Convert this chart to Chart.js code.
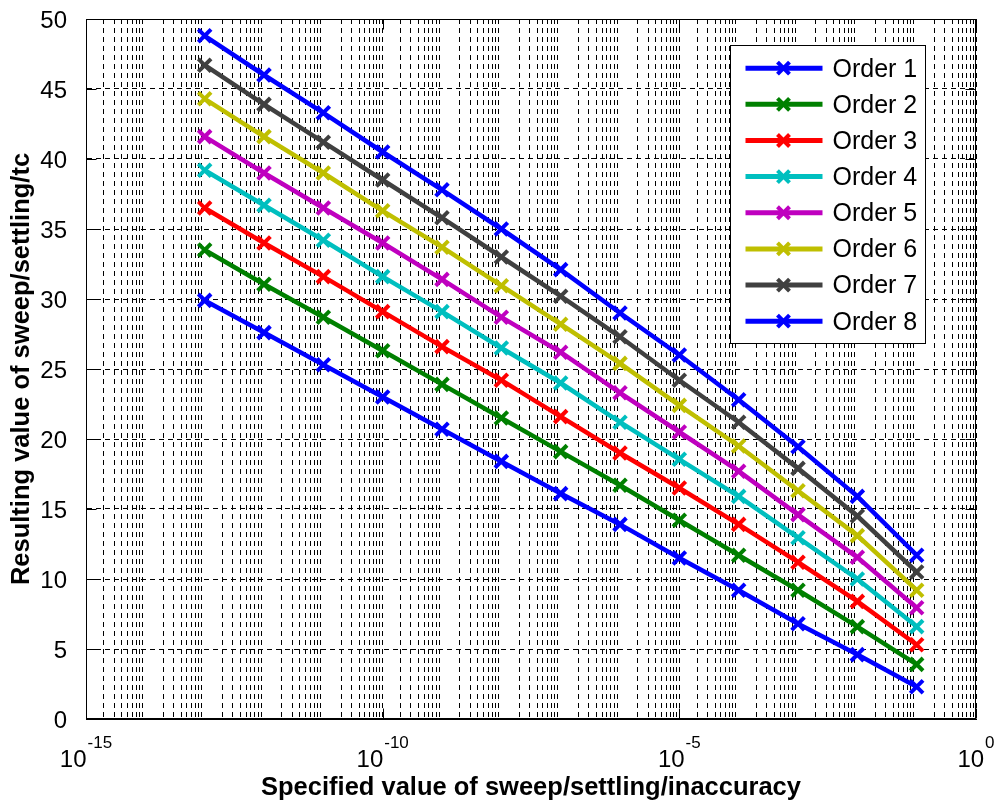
<!DOCTYPE html>
<html>
<head>
<meta charset="utf-8">
<script src="https://cdn.jsdelivr.net/npm/chart.js@4.4.0/dist/chart.umd.min.js"></script>
<style>
html,body{margin:0;padding:0;background:#fff;}
canvas{display:block;}
</style>
</head>
<body>
<canvas id="c" width="995" height="803"></canvas>
<script>
// ---------- data ----------
const xValues = [1e-13, 1e-12, 1e-11, 1e-10, 1e-9, 1e-8, 1e-7, 1e-6, 1e-5, 1e-4, 1e-3, 1e-2, 1e-1];
const order1 = [29.9, 27.6, 25.3, 23.0, 20.7, 18.4, 16.1, 13.9, 11.5, 9.2, 6.8, 4.6, 2.3];
const order2 = [33.5, 31.05, 28.7, 26.3, 23.9, 21.5, 19.1, 16.7, 14.2, 11.7, 9.2, 6.6, 3.9];
const order3 = [36.5, 34.0, 31.6, 29.1, 26.6, 24.2, 21.6, 19.0, 16.5, 13.9, 11.2, 8.4, 5.3];
const order4 = [39.2, 36.7, 34.2, 31.6, 29.1, 26.5, 24.0, 21.2, 18.55, 15.9, 12.95, 10.0, 6.6];
const order5 = [41.6, 39.0, 36.5, 34.0, 31.4, 28.7, 26.2, 23.3, 20.5, 17.7, 14.6, 11.55, 7.95];
const order6 = [44.3, 41.6, 39.0, 36.3, 33.7, 30.95, 28.2, 25.4, 22.4, 19.5, 16.3, 13.1, 9.2];
const order7 = [46.7, 43.9, 41.2, 38.5, 35.8, 33.0, 30.2, 27.3, 24.2, 21.2, 17.9, 14.5, 10.5];
const order8 = [48.8, 46.0, 43.3, 40.5, 37.8, 35.0, 32.1, 29.0, 26.0, 22.8, 19.45, 15.9, 11.7];
const seriesLabels = ['Order 1', 'Order 2', 'Order 3', 'Order 4', 'Order 5', 'Order 6', 'Order 7', 'Order 8'];
const seriesColors = ['#0000FF', '#008000', '#FF0000', '#00BFBF', '#BF00BF', '#BFBF00', '#404040', '#0000FF'];
const xTickExponents = [-15, -10, -5, 0];
const yTickStep = 5;
const yMin = 0, yMax = 50;
const xTitle = 'Specified value of sweep/settling/inaccuracy';
const yTitle = 'Resulting value of sweep/settling/tc';

// ---------- helpers ----------
const FONT = '"Liberation Sans", Arial, Helvetica, sans-serif';
const allSeries = [order1, order2, order3, order4, order5, order6, order7, order8];

// grid positions: 2..9 x 10^k in every decade plus the labelled decades
const xGridValues = [];
for (let e = xTickExponents[0]; e < xTickExponents[xTickExponents.length - 1]; e++) {
  for (let m = 2; m <= 9; m++) xGridValues.push(m * Math.pow(10, e));
}
xTickExponents.forEach(e => xGridValues.push(Math.pow(10, e)));
xGridValues.sort((a, b) => a - b);

const datasets = allSeries.map((s, i) => ({
  label: seriesLabels[i],
  data: xValues.map((x, j) => ({x: x, y: s[j]})),
  borderColor: seriesColors[i],
  backgroundColor: seriesColors[i],
  borderWidth: 4.5,
  pointStyle: 'crossRot',
  pointRadius: 9,
  pointBorderWidth: 4,
  pointBorderColor: seriesColors[i],
  tension: 0,
  fill: false
}));

function seg(ctx, x1, y1, x2, y2) {
  ctx.beginPath(); ctx.moveTo(x1, y1); ctx.lineTo(x2, y2); ctx.stroke();
}

const decor = {
  id: 'decor',
  afterDatasetsDraw(chart) {
    const {ctx, chartArea: a, scales: {x, y}} = chart;
    ctx.save();
    ctx.setLineDash([]);
    ctx.strokeStyle = '#000';
    ctx.lineWidth = 1;
    const L = Math.round(a.left) + 0.5, R = Math.round(a.right) - 0.5;
    const T = Math.round(a.top) + 0.5, B = Math.round(a.bottom) - 0.5;
    ctx.strokeRect(L, T, R - L, B - T);
    // inward major ticks
    xTickExponents.forEach(e => {
      const px = Math.round(x.getPixelForValue(Math.pow(10, e))) + 0.5;
      seg(ctx, px, B, px, B - 10);
      seg(ctx, px, T, px, T + 10);
    });
    for (let v = yMin; v <= yMax; v += yTickStep) {
      const py = Math.round(y.getPixelForValue(v)) + 0.5;
      seg(ctx, L, py, L + 10, py);
      seg(ctx, R, py, R - 10, py);
    }
    ctx.restore();
  },
  afterDraw(chart) {
    const {ctx, chartArea: a, scales: {x}} = chart;
    ctx.save();
    // x tick labels with superscript exponents
    ctx.fillStyle = '#000';
    ctx.textBaseline = 'alphabetic';
    ctx.textAlign = 'left';
    xTickExponents.forEach(e => {
      const px = x.getPixelForValue(Math.pow(10, e));
      const base = '10', exp = String(e);
      ctx.font = '24px ' + FONT;
      const wb = ctx.measureText(base).width;
      ctx.font = '17px ' + FONT;
      const we = ctx.measureText(exp).width;
      const sx = px - (wb + 1 + we) / 2;
      ctx.font = '24px ' + FONT;
      ctx.fillText(base, sx, a.bottom + 48);
      ctx.font = '17px ' + FONT;
      ctx.fillText(exp, sx + wb + 1, a.bottom + 29);
    });
    // legend
    const bw = 195, bh = 298;
    const bx = Math.round(a.right - 51) + 0.5 - bw, by = Math.round(a.top + 26) + 0.5;
    ctx.fillStyle = '#fff';
    ctx.fillRect(bx, by, bw, bh);
    ctx.strokeStyle = '#000';
    ctx.lineWidth = 1;
    ctx.setLineDash([]);
    ctx.strokeRect(bx, by, bw, bh);
    const rowH = 36.14;
    chart.data.datasets.forEach((ds, i) => {
      const ry = by + 22.7 + i * rowH;
      ctx.strokeStyle = ds.borderColor;
      ctx.lineWidth = 5;
      seg(ctx, bx + 15, ry, bx + 92, ry);
      ctx.lineWidth = 4;
      const mx = bx + 53, r = 6;
      seg(ctx, mx - r, ry - r, mx + r, ry + r);
      seg(ctx, mx - r, ry + r, mx + r, ry - r);
      ctx.fillStyle = '#000';
      ctx.font = '25px ' + FONT;
      ctx.textBaseline = 'middle';
      ctx.textAlign = 'left';
      ctx.fillText(ds.label, bx + 102, ry + 1.5);
    });
    ctx.restore();
  }
};

new Chart(document.getElementById('c'), {
  type: 'line',
  data: {datasets: datasets},
  options: {
    responsive: false,
    animation: false,
    devicePixelRatio: 1,
    events: [],
    layout: {padding: {top: 19, right: 19, left: 0, bottom: 0}},
    plugins: {legend: {display: false}, tooltip: {enabled: false}},
    scales: {
      x: {
        type: 'logarithmic',
        position: 'bottom',
        min: Math.pow(10, xTickExponents[0]),
        max: Math.pow(10, xTickExponents[xTickExponents.length - 1]),
        afterBuildTicks(s) { s.ticks = xGridValues.map(v => ({value: v})); },
        afterFit(s) { s.height = 84; s.paddingLeft = 0; s.paddingRight = 0; },
        ticks: {display: false},
        grid: {color: '#000', lineWidth: 1, drawTicks: false},
        border: {display: true, color: '#000', width: 1, dash: [5, 4]},
        title: {display: true, text: xTitle, color: '#000',
                font: {family: FONT, size: 25.5, weight: 'bold'}, padding: {top: 0, bottom: 0}}
      },
      y: {
        min: yMin,
        max: yMax,
        afterFit(s) { s.width = 86; s.paddingTop = 0; s.paddingBottom = 0; },
        ticks: {stepSize: yTickStep, color: '#000', font: {family: FONT, size: 24}, padding: 19, labelOffset: 2},
        grid: {color: '#000', lineWidth: 1, drawTicks: false},
        border: {display: true, color: '#000', width: 1, dash: [5, 4]},
        title: {display: true, text: yTitle, color: '#000',
                font: {family: FONT, size: 25.5, weight: 'bold'}, padding: {top: 7, bottom: 0}}
      }
    }
  },
  plugins: [decor]
});
</script>
</body>
</html>
